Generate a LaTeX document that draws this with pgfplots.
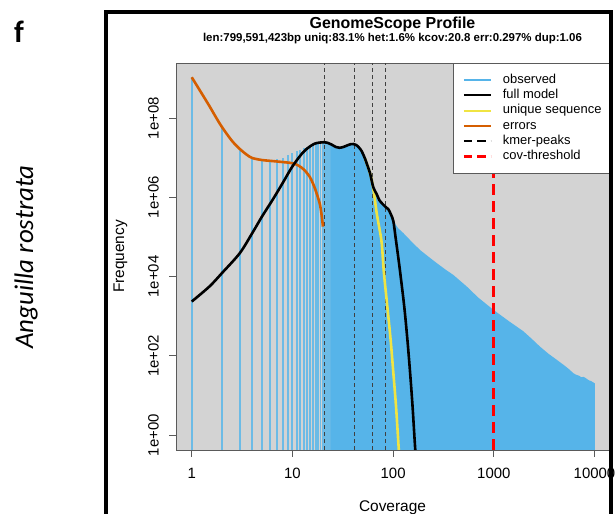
\documentclass[border=0pt]{standalone}
\usepackage{pgfplots}
\pgfplotsset{compat=1.18}
\usepackage{fontspec}
\setmainfont{Liberation Sans}
\newfontfamily\carlito{Carlito}
\definecolor{bggray}{HTML}{D3D3D3}
\definecolor{histblue}{HTML}{56B4E9}
\definecolor{barblue}{HTML}{6CBBE6}
\definecolor{uniqyellow}{HTML}{F0E442}
\definecolor{errorange}{HTML}{D55E00}
\definecolor{framegray}{HTML}{5A5A5A}

\begin{document}
\begin{tikzpicture}
\useasboundingbox (0,0) rectangle (616bp,514bp);
\begin{axis}[
  at={(176bp,64bp)}, anchor=south west,
  scale only axis, width=435bp, height=387bp,
  xmode=log, ymode=log,
  xmin=0.698, xmax=14580, ymin=0.42, ymax=2.45e9,
  axis background/.style={fill=bggray},
  axis line style={framegray, line width=0.9bp},
  tick style={framegray, line width=0.9bp},
  tick align=outside, major tick length=7bp,
  tick pos=left,
  xminorticks=false, yminorticks=false,
  /pgf/number format/assume math mode=true,
  xtick={1,10,100,1000,10000}, xticklabels={1,10,100,1000,10000},
  ytick={1,100,10000,1000000,100000000},
  yticklabels={1e+00,1e+02,1e+04,1e+06,1e+08},
  ticklabel style={font=\fontsize{15}{18}\selectfont},
  xticklabel style={anchor=base, inner sep=0pt},
  xticklabel shift=21.5bp,
  yticklabel style={rotate=90, anchor=base, inner sep=0pt},
  yticklabel shift=10.5bp,
  xlabel={Coverage}, ylabel={Frequency},
  label style={font=\fontsize{15.5}{18}\selectfont},
  xlabel style={at={(axis description cs:0.4977,-0.1589)}, anchor=base, inner sep=0pt},
  ylabel style={at={(axis description cs:-0.1195,0.5)}, anchor=base, inner sep=0pt},
  legend style={at={(rel axis cs:1,1)}, anchor=north east, draw=framegray,
    line width=0.9bp, fill=white, font=\fontsize{13}{15}\selectfont,
    inner xsep=9bp, inner ysep=9bp, row sep=0pt,
    /tikz/column sep=11bp,
    nodes={inner xsep=0bp, inner ysep=1.3bp, text height=9.5bp, text depth=3.2bp}},
  legend cell align=left,
  legend image code/.code={\draw[#1] (0bp,0bp) -- (27bp,0bp);},
]
% observed histogram: individual bars at low coverage
\addplot[barblue, line width=1.9bp, unbounded coords=jump, forget plot] coordinates {
(1,0.42) (1,1.07e9) (1,nan) (2,0.42) (2,5.89e7) (2,nan) (3,0.42) (3,1.66e7) (3,nan)
(4,0.42) (4,1.02e7) (4,nan) (5,0.42) (5,8.91e6) (5,nan) (6,0.42) (6,8.91e6) (6,nan)
(7,0.42) (7,9.12e6) (7,nan) (8,0.42) (8,1.00e7) (8,nan) (9,0.42) (9,1.15e7) (9,nan)
(10,0.42) (10,1.32e7) (10,nan) (11,0.42) (11,1.45e7) (11,nan) (12,0.42) (12,1.58e7) (12,nan)
(13,0.42) (13,1.74e7) (13,nan) (14,0.42) (14,1.86e7) (14,nan) (15,0.42) (15,2.00e7) (15,nan)
(16,0.42) (16,2.14e7) (16,nan) (17,0.42) (17,2.24e7) (17,nan) (18,0.42) (18,2.34e7) (18,nan)
(19,0.42) (19,2.40e7) (19,nan) (20,0.42) (20,2.45e7) (20,nan) (21,0.42) (21,2.45e7) (21,nan)
(22,0.42) (22,2.40e7) (22,nan) (23,0.42) (23,2.29e7) (23,nan) (24,0.42) (24,2.19e7) (24,nan)
(25,0.42) (25,2.04e7) (25,nan) (26,0.42) (26,1.95e7)
};
% observed histogram: dense part as area
\addplot[fill=histblue, draw=none, forget plot] coordinates {
(24,0.42) (24,2.19e7) (27,1.86e7) (29.2,1.78e7) (32,1.86e7) (35,2.04e7) (38,2.19e7)
(40.3,2.21e7) (43,2.09e7) (46,1.78e7) (48.8,1.45e7) (52.5,9.55e6) (56.7,5.50e6)
(59,4.07e6) (63.6,1.78e6) (68.7,1.20e6) (73,8.51e5) (78,6.92e5) (84,5.75e5)
(89.6,4.79e5) (95,3.63e5) (100,2.82e5) (105,2.14e5) (112,1.66e5) (126,1.26e5)
(150,7.94e4) (185,4.68e4) (230,3.02e4) (271,2.19e4) (330,1.51e4) (396,1.10e4)
(538,5.62e3) (700,2.95e3) (989,1.45e3) (1400,759) (1963,417) (2400,263) (2877,170)
(3500,112) (4217,79.4) (5000,57.5) (5600,45.7) (6166,36.3) (6600,33.1) (7000,31.6)
(7400,28.8) (7800,29.5) (8375,26.3) (8800,24.0) (9300,22.9) (9700,21.4) (10100,20.0)
(10100,0.42)
};
% kmer peaks
\addplot[black!75, line width=0.9bp, dash pattern=on 4bp off 3bp, forget plot] coordinates {(20.8,0.42) (20.8,2.45e9)};
\addplot[black!75, line width=0.9bp, dash pattern=on 4bp off 3bp, forget plot] coordinates {(41.6,0.42) (41.6,2.45e9)};
\addplot[black!75, line width=0.9bp, dash pattern=on 4bp off 3bp, forget plot] coordinates {(62.4,0.42) (62.4,2.45e9)};
\addplot[black!75, line width=0.9bp, dash pattern=on 4bp off 3bp, forget plot] coordinates {(83.2,0.42) (83.2,2.45e9)};
% cov threshold
\addplot[red, line width=2.8bp, dash pattern=on 11bp off 6bp, forget plot] coordinates {(1000,0.42) (1000,2.45e9)};
% errors
\addplot[errorange, line width=2.6bp, smooth, forget plot] coordinates {
(1,1.07e9) (1.25,4.27e8) (1.5,2.00e8) (1.75,1.02e8) (2,5.89e7) (2.5,2.69e7) (3,1.66e7)
(3.5,1.20e7) (4,9.77e6) (5,8.71e6) (6,8.32e6) (8,7.76e6) (10,7.24e6) (11.5,6.31e6)
(13.1,4.90e6) (15,3.16e6) (16.7,1.70e6) (18,9.55e5) (18.8,6.46e5) (19.5,3.55e5) (20.1,1.82e5)
};
% unique sequence
\addplot[uniqyellow, line width=2.6bp, smooth, forget plot] coordinates {
(52.5,9.55e6) (56.7,5.50e6) (59,3.98e6) (61.3,2.75e6) (65,1.12e6) (68.7,3.98e5)
(73,1.66e5) (77.1,6.92e4) (81,1.26e4) (87.6,1.74e3) (94.5,251) (100.6,36.3)
(106.9,5.25) (113.9,0.427) (118,0.126)
};
% full model
\addplot[black, line width=2.6bp, smooth, forget plot] coordinates {
(1,2.34e3) (1.5,5.62e3) (2,1.23e4) (3,3.89e4) (4,1.26e5) (5,3.31e5) (6.37,8.71e5)
(8,2.29e6) (10,6.03e6) (12.6,1.32e7) (14.5,1.82e7) (16.5,2.24e7) (18.5,2.40e7)
(20.3,2.45e7) (22,2.40e7) (24.5,2.14e7) (27,1.86e7) (29.2,1.78e7) (32,1.86e7)
(35,2.04e7) (38,2.19e7) (40.3,2.21e7) (43,2.09e7) (46,1.78e7) (48.8,1.45e7)
(52.5,9.55e6) (56.7,5.50e6) (59,4.07e6) (63.6,1.78e6) (68.7,1.20e6) (73,8.51e5)
(78,6.92e5) (84,5.75e5) (89.6,5.01e5) (95,3.72e5) (100.5,2.51e5) (106,9.33e4)
(112,3.31e4) (118,1.17e4) (129,1.74e3) (138.7,251) (147.6,36.3) (156,5.25)
(165.9,0.427) (176,0.063)
};
\addlegendimage{histblue, line width=2bp}\addlegendentry{observed}
\addlegendimage{black, line width=2.2bp}\addlegendentry{full model}
\addlegendimage{uniqyellow, line width=2.2bp}\addlegendentry{unique sequence}
\addlegendimage{errorange, line width=2.2bp}\addlegendentry{errors}
\addlegendimage{black, line width=2bp, dash pattern=on 8.5bp off 5bp}\addlegendentry{kmer-peaks}
\addlegendimage{red, line width=2.2bp, dash pattern=on 8.5bp off 5bp}\addlegendentry{cov-threshold}
\end{axis}
\node[anchor=base, inner sep=0pt, font=\bfseries\fontsize{16}{19}\selectfont] at (392.5bp,485.7bp) {GenomeScope Profile};
\node[anchor=base, inner sep=0pt, font=\bfseries\fontsize{11.5}{13}\selectfont] at (392.5bp,472.5bp) {len:799,591,423bp uniq:83.1\% het:1.6\% kcov:20.8 err:0.297\% dup:1.06};
\node[anchor=base west, inner sep=0pt, font=\carlito\bfseries\fontsize{31}{36}\selectfont] at (14bp,471bp) {f};
\node[anchor=base, inner sep=0pt, rotate=90, font=\carlito\itshape\fontsize{27}{32}\selectfont] at (33bp,257bp) {Anguilla rostrata};
\draw[line width=4bp, line join=miter] (105.7bp,-10bp) -- (105.7bp,502bp) -- (611.3bp,502bp) -- (611.3bp,-10bp);
\end{tikzpicture}
\end{document}
